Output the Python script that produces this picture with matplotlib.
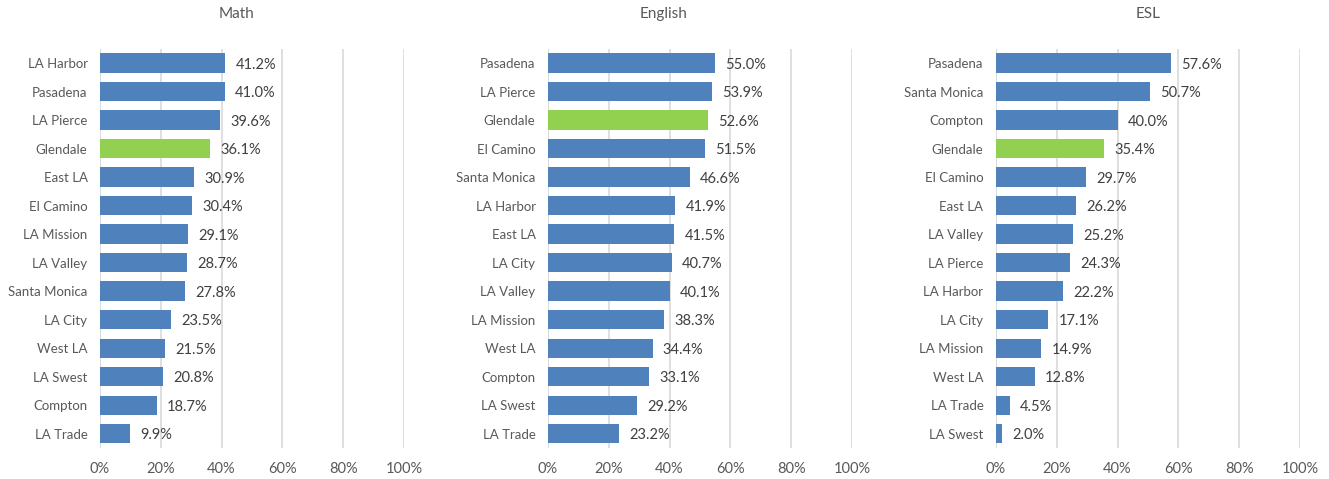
import matplotlib.pyplot as plt

plt.rcParams['font.family'] = ['Lato', 'DejaVu Sans']

math_labels = ["LA Harbor", "Pasadena", "LA Pierce", "Glendale", "East LA", "El Camino",
               "LA Mission", "LA Valley", "Santa Monica", "LA City", "West LA", "LA Swest",
               "Compton", "LA Trade"]
math_vals = [41.2, 41.0, 39.6, 36.1, 30.9, 30.4, 29.1, 28.7, 27.8, 23.5, 21.5, 20.8, 18.7, 9.9]

eng_labels = ["Pasadena", "LA Pierce", "Glendale", "El Camino", "Santa Monica", "LA Harbor",
              "East LA", "LA City", "LA Valley", "LA Mission", "West LA", "Compton",
              "LA Swest", "LA Trade"]
eng_vals = [55.0, 53.9, 52.6, 51.5, 46.6, 41.9, 41.5, 40.7, 40.1, 38.3, 34.4, 33.1, 29.2, 23.2]

esl_labels = ["Pasadena", "Santa Monica", "Compton", "Glendale", "El Camino", "East LA",
              "LA Valley", "LA Pierce", "LA Harbor", "LA City", "LA Mission", "West LA",
              "LA Trade", "LA Swest"]
esl_vals = [57.6, 50.7, 40.0, 35.4, 29.7, 26.2, 25.2, 24.3, 22.2, 17.1, 14.9, 12.8, 4.5, 2.0]

titles = ["Math", "English", "ESL"]
ticks = [0, 20, 40, 60, 80, 100]

blue = "#4F81BD"
green = "#92D050"
grey = "#595959"

fig = plt.figure(figsize=(13.29, 4.79), dpi=100)
lefts = [100 / 1329, 548 / 1329, 996 / 1329]
title_x = [236 / 1329, 664 / 1329, 1148 / 1329]
panels = [(math_labels, math_vals), (eng_labels, eng_vals), (esl_labels, esl_vals)]

for left, tx, title, (labels, vals) in zip(lefts, title_x, titles, panels):
    ax = fig.add_axes([left, 0.0647, 304 / 1329, 0.8335])
    n = len(labels)
    ypos = list(range(n - 1, -1, -1))
    colors = [green if l == "Glendale" else blue for l in labels]
    ax.barh(ypos, vals, height=0.68, color=colors, zorder=2)
    for y, v in zip(ypos, vals):
        ax.text(v + 3.4, y, f"{v:.1f}%", va="center_baseline", ha="left",
                fontsize=10.5, color="#404040")
    ax.set_xlim(0, 100)
    ax.set_ylim(-0.5, n - 0.5)
    ax.set_yticks(ypos)
    ax.set_yticklabels(labels, fontsize=9.5, color=grey)
    ax.set_xticks(ticks)
    ax.set_xticklabels([f"{t}%" for t in ticks], fontsize=10.5, color=grey)
    ax.tick_params(axis='y', length=0, pad=9)
    ax.tick_params(axis='x', length=0, pad=10)
    ax.grid(axis='x', color="#D9D9D9", linewidth=1.2, zorder=0)
    for s in ax.spines.values():
        s.set_visible(False)
    ax.axvline(0, color="#D9D9D9", linewidth=1.2, zorder=1)
    fig.text(tx, 0.97, title, ha="center", va="center", fontsize=11, color=grey)

fig.savefig("out.png", dpi=100)
